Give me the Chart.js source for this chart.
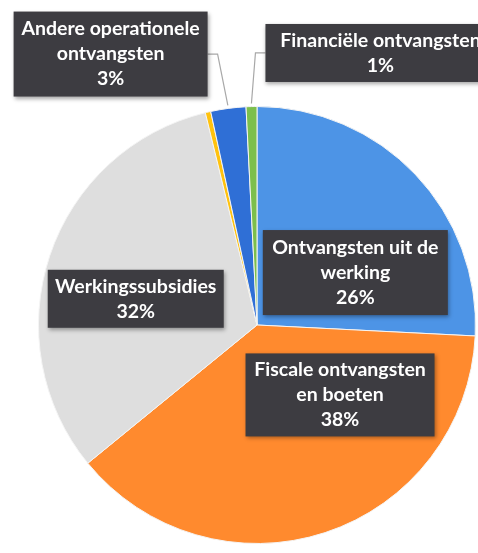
<!DOCTYPE html>
<html>
<head>
<meta charset="utf-8">
<script src="https://cdn.jsdelivr.net/npm/chart.js@4.4.1/dist/chart.umd.min.js"></script>
<style>
html,body{margin:0;padding:0;background:#fff;}
#wrap{position:relative;width:478px;height:553px;}
</style>
</head>
<body>
<div id="wrap"><canvas id="c" width="478" height="553"></canvas></div>
<script>
// Data, clockwise from 12 o'clock
const categories = [
  "Ontvangsten uit de werking",
  "Fiscale ontvangsten en boeten",
  "Werkingssubsidies",
  "Overige",
  "Andere operationele ontvangsten",
  "Financiële ontvangsten"
];
const values = [25.8, 38.3, 32.1, 0.4, 2.6, 0.8];
// Label text lines (percent is appended from the data); null = no label
const labelLines = [
  ["Ontvangsten uit de", "werking"],
  ["Fiscale ontvangsten", "en boeten"],
  ["Werkingssubsidies"],
  null,
  ["Andere operationele", "ontvangsten"],
  ["Financiële ontvangsten"]
];

// Styles / placement (kept separate from the data)
const colors = ["#4d94e6", "#ff8a2e", "#dedede", "#ffc20e", "#2f6fd6", "#7cbf4c"];
// label box centre relative to pie centre, in units of the radius; box size in px
const labelPlace = [
  {fx: 0.45, fy: -0.24, w: 185, h: 85},
  {fx: 0.38, fy: 0.32, w: 189, h: 83},
  {fx: -0.555, fy: -0.12, w: 176, h: 58},
  null,
  {fx: -0.67, fy: -1.24, w: 194, h: 85, leader: true},
  {fx: 0.565, fy: -1.245, w: 230, h: 58, leader: true}
];

const labelPlugin = {
  id: 'boxLabels',
  afterDatasetsDraw(chart) {
    const ctx = chart.ctx;
    const meta = chart.getDatasetMeta(0);
    const total = values.reduce((a, b) => a + b, 0);
    meta.data.forEach((arc, i) => {
      const lp = labelPlace[i];
      if (!lp || !labelLines[i]) return;
      const r = arc.outerRadius;
      const cx = arc.x + lp.fx * r;
      const cy = arc.y + lp.fy * r;
      const lines = labelLines[i].concat([Math.round(values[i] / total * 100) + "%"]);
      ctx.save();
      // leader line
      if (lp.leader) {
        const mid = (arc.startAngle + arc.endAngle) / 2;
        const ex = arc.x + Math.cos(mid) * (r + 3);
        const ey = arc.y + Math.sin(mid) * (r + 3);
        const side = cx < arc.x ? 1 : -1;
        const bx = cx + side * lp.w / 2;
        const by = cy;
        ctx.strokeStyle = "#a8a8a8";
        ctx.lineWidth = 1.2;
        ctx.beginPath();
        ctx.moveTo(bx, by);
        ctx.lineTo(bx + side * 10, by);
        ctx.lineTo(ex, ey);
        ctx.stroke();
      }
      // box with soft shadow
      ctx.shadowColor = "rgba(0,0,0,0.35)";
      ctx.shadowBlur = 4;
      ctx.shadowOffsetX = 1;
      ctx.shadowOffsetY = 2;
      ctx.fillStyle = "#3d3c41";
      ctx.fillRect(cx - lp.w / 2, cy - lp.h / 2, lp.w, lp.h);
      ctx.shadowColor = "transparent";
      ctx.fillStyle = "#ffffff";
      ctx.font = "bold 19.5px Lato, 'Open Sans', sans-serif";
      ctx.textAlign = "center";
      ctx.textBaseline = "middle";
      const lh = 25;
      const y0 = cy - (lines.length - 1) * lh / 2;
      lines.forEach((t, k) => ctx.fillText(t, cx, y0 + k * lh));
      ctx.restore();
    });
  }
};

new Chart(document.getElementById('c'), {
  type: 'pie',
  data: {
    labels: categories,
    datasets: [{
      data: values,
      backgroundColor: colors,
      borderColor: "#f4f4f4",
      borderWidth: 1
    }]
  },
  options: {
    responsive: false,
    animation: false,
    layout: {padding: {left: 38, right: 2, top: 103, bottom: 6}},
    plugins: {legend: {display: false}, tooltip: {enabled: false}}
  },
  plugins: [labelPlugin]
});
</script>
</body>
</html>
